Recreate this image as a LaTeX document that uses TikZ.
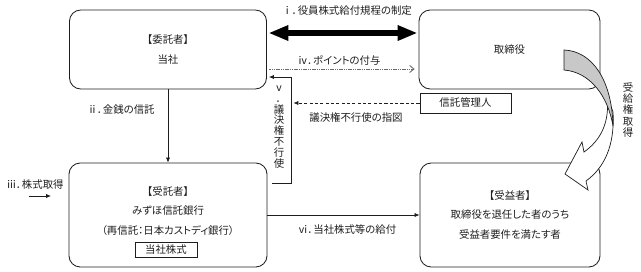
\documentclass[tikz,border=0pt]{standalone}
\usepackage{fontspec}
\setmainfont{Noto Sans CJK JP}[RawFeature=+palt]
\usepackage{xcolor}
\usetikzlibrary{arrows.meta,positioning,calc}
\definecolor{ink}{HTML}{1E1E1E}
\definecolor{shade}{HTML}{C8C8C8}
\definecolor{pale}{HTML}{6A6A6A}

\begin{document}
\begin{tikzpicture}[x=0.025cm,y=-0.025cm,>={Latex[length=3.5pt,width=3pt]},font=\fontsize{7.4}{13.9}\selectfont]
\tikzset{box/.style={draw=ink,line width=0.6pt,rounded corners=8pt,align=center,text=ink},
  plain/.style={draw=ink,line width=0.6pt,align=center,text=ink,inner sep=1pt},
  arr/.style={->,line width=0.5pt,draw=ink},
  tag/.style={inner sep=1pt,text=ink},
  vtag/.style={tag,align=center,font=\fontsize{7.4}{7.7}\selectfont},
  wide/.style={{Triangle[length=0.5cm,width=0.36cm]}-{Triangle[length=0.5cm,width=0.36cm]},line width=0.15cm,draw=black}}
\useasboundingbox (0,0) rectangle (641,271);
% boxes
\node[box,minimum width=4.925cm,minimum height=1.975cm] (giver) at (168,49.5) {【委託者】\\当社};
\node[box,minimum width=4.525cm,minimum height=1.975cm] (director) at (509.5,49.5) {取締役};
\node[plain,minimum width=2.275cm,minimum height=0.5cm] (admin) at (465.5,103) {信託管理人};
\node[box,minimum width=4.95cm,minimum height=2.6cm] (trustee) at (168,215) {};
\node[tag,align=center] (trusteetxt) at (168,211) {【受託者】\\みずほ信託銀行\\（再信託：日本カストディ銀行）};
\node[plain,minimum width=1.55cm,minimum height=0.375cm] (stock) at (166,249.5) {当社株式};
\node[box,minimum width=4.5cm,minimum height=2.6cm] (beneficiary) at (510,215) {【受益者】\\取締役を退任した者のうち\\受益者要件を満たす者};
% connectors
\draw[wide] ($(giver.east)+(1.5,-16.5)$) -- ($(director.west)+(-1,-16.5)$);
\node[tag] (rule) at (347,11) {ⅰ．役員株式給付規程の制定};
\draw[pale,line width=0.6pt,dash pattern=on 1pt off 0.6pt,-{Straight Barb[length=3pt,width=5pt]}] ($(giver.east)+(2.5,19.5)$) -- ($(director.west)+(-4,19.5)$);
\node[tag] (point) at (339,61) {ⅳ．ポイントの付与};
\draw[arr] (giver.south) -- (trustee.north);
\node[tag] (money) at (121,110) {ⅱ．金銭の信託};
\coordinate (vtop) at ($(giver.east)+(24.5,27.5)$);
\draw[arr] ($(trustee.east)+(5,-32)$) -| (vtop) -- ($(giver.east)+(2,27.5)$);
\node[vtag] (novote) at (279,127) {ⅴ\\．\\議\\決\\権\\不\\行\\使};
\draw[arr,dash pattern=on 2.2pt off 1.6pt] (admin.west) -- ($(admin.west -| vtop)+(2,0)$);
\node[tag] (order) at (356,118) {議決権不行使の指図};
\node[tag] (buy) at (35,185) {ⅲ．株式取得};
\coordinate (buyfrom) at (29,196);
\coordinate (buyto) at (51,196);
\draw[arr] (buyfrom) -- (buyto);
\draw[arr] (trustee.east) -- (beneficiary.west);
\node[tag] (deliver) at (347,230) {ⅵ．当社株式等の給付};
% curved block arrow
\filldraw[draw=ink,fill=white,line width=0.5pt] (607,96) .. controls (610,122) and (601,140) .. (584,152) -- (582,142) -- (565,174) -- (588,190) -- (586,181) .. controls (604,168) and (615,146) .. (613,112) -- cycle;
\filldraw[draw=ink,fill=shade,line width=0.5pt] (564,50) .. controls (592,51) and (612,80) .. (613,126) .. controls (608,96) and (590,72) .. (564,70) -- cycle;
\node[vtag,font=\fontsize{7.4}{7.9}\selectfont] (claim) at (628,110) {受\\給\\権\\取\\得};
\end{tikzpicture}
\end{document}
